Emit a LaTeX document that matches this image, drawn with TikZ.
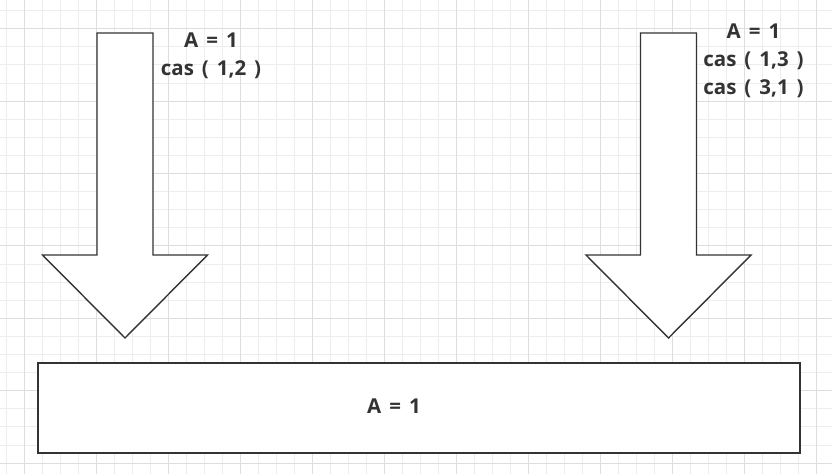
\documentclass[tikz,border=0pt]{standalone}
\usepackage{fontspec}
\setmainfont{Open Sans}
\usetikzlibrary{positioning}
\definecolor{ink}{HTML}{333333}
\definecolor{gridA}{HTML}{EDEDED}
\definecolor{gridB}{HTML}{DEDEDE}
\newcommand{\lblfont}{\bfseries\fontsize{20.5}{27.6}\selectfont\setlength{\spaceskip}{0.39em}}
\begin{document}
\begin{tikzpicture}[x=1pt, y=-1pt,
      lbl/.style={text=ink, font=\lblfont, align=center, inner sep=0pt, anchor=base},
      box/.style={draw=ink, fill=white, line width=1.6pt, minimum width=762pt, minimum height=90pt, inner sep=0pt},
      bigarr/.style={draw=ink, fill=white, line width=1.4pt, line join=miter}]
    \useasboundingbox (0,0) rectangle (832,474);
    \fill[white] (0,0) rectangle (832,474);
    \foreach \i in {0,...,46} \draw[gridA, line width=0.8pt] ({6+18*\i},0) -- ({6+18*\i},474);
    \foreach \j in {0,...,26} \draw[gridA, line width=0.8pt] (0,{10.5+18.1*\j}) -- (832,{10.5+18.1*\j});
    \foreach \i in {1,5,...,45} \draw[gridB, line width=0.9pt] ({6+18*\i},0) -- ({6+18*\i},474);
    \foreach \j in {1,5,...,25} \draw[gridB, line width=0.9pt] (0,{10.5+18.1*\j}) -- (832,{10.5+18.1*\j});
    % two block arrows
    \foreach \cx in {125,668.5}
      \draw[bigarr] (\cx-28,33) -- (\cx+28,33) -- (\cx+28,255) -- (\cx+82.5,255) -- (\cx,338)
        -- (\cx-82.5,255) -- (\cx-28,255) -- cycle;
    \node[lbl] (leftL) at (211,75) {A = 1\\cas ( 1,2 )};
    \node[lbl] (rightL) at (753.5,94) {A = 1\\cas ( 1,3 )\\cas ( 3,1 )};
    \node[box] (state) at (419,408) {};
    \node[lbl] (stateL) at (394,413) {A = 1};
  \end{tikzpicture}
\end{document}
